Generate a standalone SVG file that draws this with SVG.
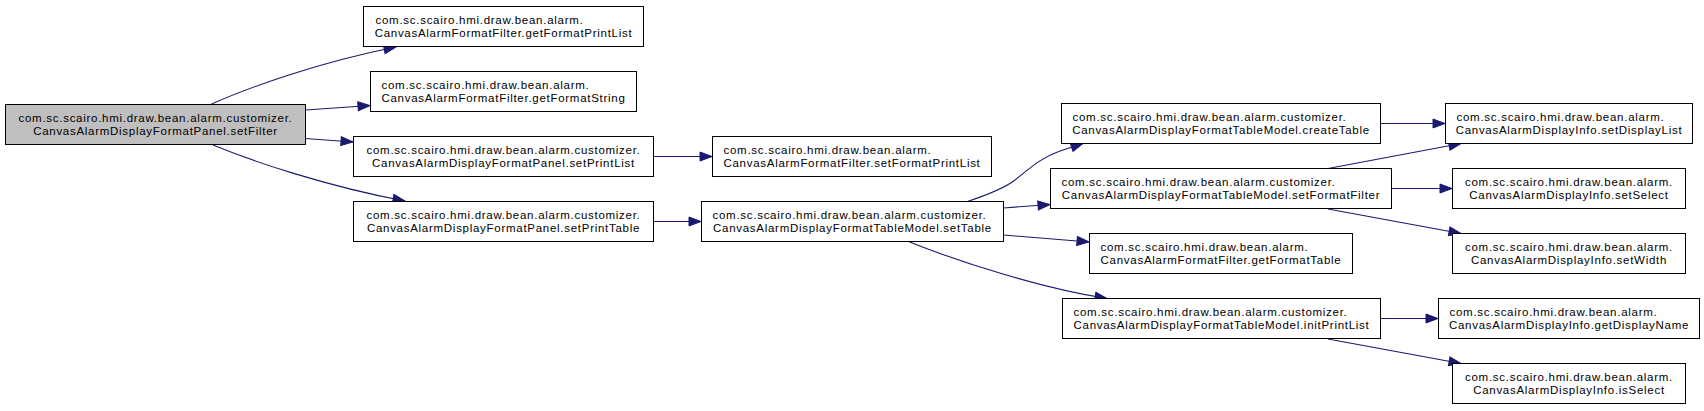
<svg xmlns="http://www.w3.org/2000/svg" width="1704" height="411" viewBox="0 0 1704 411">
<style>
.n rect{fill:#ffffff;stroke:#000000;stroke-width:1}
.n.root rect{fill:#bfbfbf}
.n text{font-family:"Liberation Sans",Arial,sans-serif;font-size:11.5px;letter-spacing:0.72px;fill:#000000}
.m{text-anchor:middle}
.s{text-anchor:start}
#edges path{fill:none;stroke:#191970;stroke-width:1.1;marker-end:url(#arr)}
</style>
<defs>
<marker id="arr" markerUnits="userSpaceOnUse" markerWidth="14" markerHeight="11" viewBox="0 0 14 11" refX="12.5" refY="5.5" orient="auto" overflow="visible">
<path d="M0.5,1 L12.5,5.5 L0.5,10 z" fill="#191970" stroke="#191970" stroke-width="1"/>
</marker>
</defs>
<rect width="1704" height="411" fill="#ffffff"/>
<g id="edges">
<path d="M211.5,104 C250,87 320,62 396,47"/>
<path d="M305.5,110 L370,105.5"/>
<path d="M305.5,138.5 L353,142"/>
<path d="M213,145 C252,161 325,186 405,201"/>
<path d="M653.5,156.5 L712,156.5"/>
<path d="M653.5,221.5 L701,221.5"/>
<path d="M966,202 C990,194 1005,188 1015,180 C1028,170 1040,158 1060,151 L1083,143.5"/>
<path d="M1003.5,208 L1050,204.5"/>
<path d="M1003.5,235 L1089,242"/>
<path d="M909.5,242 C960,262 1040,288 1107,298.5"/>
<path d="M1380.5,123.5 L1445,123.5"/>
<path d="M1328,168.5 L1461,143.5"/>
<path d="M1391.5,188.5 L1452,188.5"/>
<path d="M1328,209 L1461,233.5"/>
<path d="M1380.5,318.5 L1438,318.5"/>
<path d="M1328,339 L1461,363.5"/>
</g>
<g id="setFilter" class="n root">
<rect x="5.5" y="104.5" width="300" height="40"/>
<text class="m" x="155.5" y="122">com.sc.scairo.hmi.draw.bean.alarm.customizer.</text>
<text class="m" x="155.5" y="135">CanvasAlarmDisplayFormatPanel.setFilter</text>
</g>
<g id="getFormatPrintList" class="n">
<rect x="363.5" y="6.5" width="280" height="40"/>
<text class="s" x="375.5" y="24">com.sc.scairo.hmi.draw.bean.alarm.</text>
<text class="m" x="503.5" y="37">CanvasAlarmFormatFilter.getFormatPrintList</text>
</g>
<g id="getFormatString" class="n">
<rect x="370.5" y="71.5" width="266" height="40"/>
<text class="s" x="381.5" y="89">com.sc.scairo.hmi.draw.bean.alarm.</text>
<text class="m" x="503.5" y="102">CanvasAlarmFormatFilter.getFormatString</text>
</g>
<g id="setPrintList" class="n">
<rect x="353.5" y="136.5" width="300" height="40"/>
<text class="m" x="503.5" y="154">com.sc.scairo.hmi.draw.bean.alarm.customizer.</text>
<text class="m" x="503.5" y="167">CanvasAlarmDisplayFormatPanel.setPrintList</text>
</g>
<g id="setPrintTable" class="n">
<rect x="353.5" y="201.5" width="300" height="40"/>
<text class="m" x="503.5" y="219">com.sc.scairo.hmi.draw.bean.alarm.customizer.</text>
<text class="m" x="503.5" y="232">CanvasAlarmDisplayFormatPanel.setPrintTable</text>
</g>
<g id="setFormatPrintList" class="n">
<rect x="712.5" y="136.5" width="279" height="40"/>
<text class="s" x="723.5" y="154">com.sc.scairo.hmi.draw.bean.alarm.</text>
<text class="m" x="852" y="167">CanvasAlarmFormatFilter.setFormatPrintList</text>
</g>
<g id="setTable" class="n">
<rect x="701.5" y="201.5" width="302" height="40"/>
<text class="s" x="712.5" y="219">com.sc.scairo.hmi.draw.bean.alarm.customizer.</text>
<text class="m" x="852.5" y="232">CanvasAlarmDisplayFormatTableModel.setTable</text>
</g>
<g id="createTable" class="n">
<rect x="1061.5" y="103.5" width="319" height="40"/>
<text class="s" x="1072.5" y="121">com.sc.scairo.hmi.draw.bean.alarm.customizer.</text>
<text class="m" x="1221" y="134">CanvasAlarmDisplayFormatTableModel.createTable</text>
</g>
<g id="setFormatFilter" class="n">
<rect x="1050.5" y="168.5" width="341" height="40"/>
<text class="s" x="1061.5" y="186">com.sc.scairo.hmi.draw.bean.alarm.customizer.</text>
<text class="m" x="1221" y="199">CanvasAlarmDisplayFormatTableModel.setFormatFilter</text>
</g>
<g id="getFormatTable" class="n">
<rect x="1089.5" y="233.5" width="263" height="40"/>
<text class="s" x="1100.5" y="251">com.sc.scairo.hmi.draw.bean.alarm.</text>
<text class="m" x="1221" y="264">CanvasAlarmFormatFilter.getFormatTable</text>
</g>
<g id="initPrintList" class="n">
<rect x="1062.5" y="298.5" width="318" height="40"/>
<text class="s" x="1073.5" y="316">com.sc.scairo.hmi.draw.bean.alarm.customizer.</text>
<text class="m" x="1221.5" y="329">CanvasAlarmDisplayFormatTableModel.initPrintList</text>
</g>
<g id="setDisplayList" class="n">
<rect x="1445.5" y="103.5" width="247" height="40"/>
<text class="s" x="1456.5" y="121">com.sc.scairo.hmi.draw.bean.alarm.</text>
<text class="m" x="1569" y="134">CanvasAlarmDisplayInfo.setDisplayList</text>
</g>
<g id="setSelect" class="n">
<rect x="1452.5" y="168.5" width="233" height="40"/>
<text class="m" x="1569" y="186">com.sc.scairo.hmi.draw.bean.alarm.</text>
<text class="m" x="1569" y="199">CanvasAlarmDisplayInfo.setSelect</text>
</g>
<g id="setWidth" class="n">
<rect x="1452.5" y="233.5" width="233" height="40"/>
<text class="m" x="1569" y="251">com.sc.scairo.hmi.draw.bean.alarm.</text>
<text class="m" x="1569" y="264">CanvasAlarmDisplayInfo.setWidth</text>
</g>
<g id="getDisplayName" class="n">
<rect x="1438.5" y="298.5" width="261" height="40"/>
<text class="s" x="1449.5" y="316">com.sc.scairo.hmi.draw.bean.alarm.</text>
<text class="m" x="1569" y="329">CanvasAlarmDisplayInfo.getDisplayName</text>
</g>
<g id="isSelect" class="n">
<rect x="1452.5" y="363.5" width="233" height="40"/>
<text class="m" x="1569" y="381">com.sc.scairo.hmi.draw.bean.alarm.</text>
<text class="m" x="1569" y="394">CanvasAlarmDisplayInfo.isSelect</text>
</g>
</svg>
